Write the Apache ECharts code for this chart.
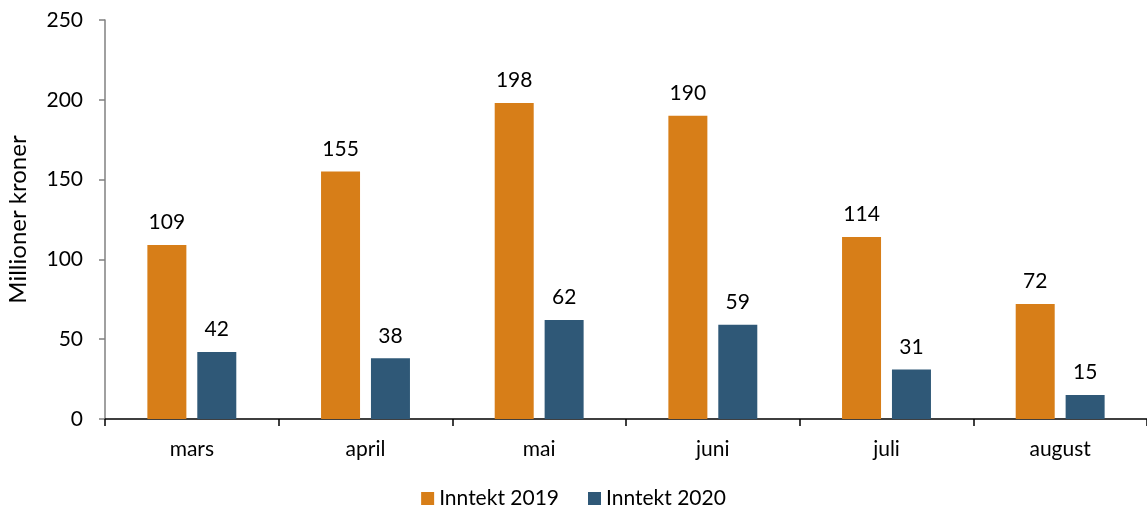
<!DOCTYPE html>
<html>
<head>
<meta charset="utf-8">
<script src="https://cdn.jsdelivr.net/npm/echarts@6/dist/echarts.min.js"></script>
<style>html,body{margin:0;padding:0;background:#fff;}#c{width:1147px;height:516px;}</style>
</head>
<body>
<div id="c"></div>
<script>
const categories = ['mars', 'april', 'mai', 'juni', 'juli', 'august'];
const inntekt2019 = [109, 155, 198, 190, 114, 72];
const inntekt2020 = [42, 38, 62, 59, 31, 15];
const yTicks = { min: 0, max: 250, interval: 50 };
const seriesNames = ['Inntekt 2019', 'Inntekt 2020'];

const FONT = 'Lato, "Open Sans", sans-serif';
const chart = echarts.init(document.getElementById('c'), null, { renderer: 'canvas' });
const labelCfg = { show: true, position: 'top', distance: 12, color: '#000', fontSize: 21, fontFamily: FONT };
chart.setOption({
  animation: false,
  backgroundColor: '#fff',
  textStyle: { fontFamily: FONT },
  grid: { left: 105, right: 0, top: 20, bottom: 97, containLabel: false, outerBoundsMode: 'none' },
  legend: {
    bottom: 2, left: 'center',
    itemWidth: 13, itemHeight: 13, itemGap: 29,
    icon: 'rect',
    textStyle: { fontSize: 21, color: '#000', fontFamily: FONT },
    data: seriesNames
  },
  xAxis: {
    type: 'category', data: categories,
    axisLine: { lineStyle: { color: '#000', width: 1.5 } },
    axisTick: { show: true, length: 7, alignWithLabel: false, lineStyle: { color: '#000', width: 1.5 } },
    axisLabel: { color: '#000', fontSize: 21, margin: 20, fontFamily: FONT }
  },
  yAxis: {
    type: 'value', min: yTicks.min, max: yTicks.max, interval: yTicks.interval,
    name: 'Millioner kroner', nameLocation: 'middle', nameGap: 75, nameRotate: 90,
    nameTextStyle: { fontSize: 24, color: '#000', fontFamily: FONT },
    axisLine: { show: true, lineStyle: { color: '#808080', width: 1.5 } },
    axisTick: { show: true, length: 6, lineStyle: { color: '#808080', width: 1.5 } },
    splitLine: { show: false },
    axisLabel: { color: '#000', fontSize: 21, margin: 22, fontFamily: FONT }
  },
  series: [
    { name: seriesNames[0], type: 'bar', data: inntekt2019, barWidth: 39, barGap: '28%', itemStyle: { color: '#D77E18' }, label: labelCfg },
    { name: seriesNames[1], type: 'bar', data: inntekt2020, barWidth: 39, itemStyle: { color: '#2F5877' }, label: labelCfg }
  ]
});
</script>
</body>
</html>
